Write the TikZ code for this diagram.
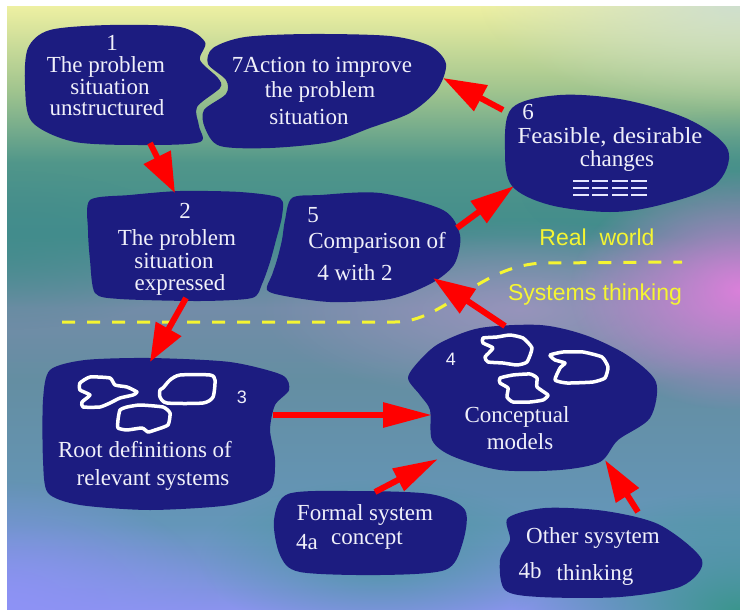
\documentclass[tikz,border=0pt]{standalone}
\usepackage{fontspec}
\usepackage{graphicx}
\setmainfont{Liberation Serif}
\setsansfont{Liberation Sans}
\usetikzlibrary{arrows.meta,fadings}
\definecolor{navy}{RGB}{28,28,128}
\definecolor{txtw}{RGB}{240,240,250}
\definecolor{ylw}{RGB}{245,245,50}
\definecolor{bg0}{RGB}{138,148,238}
\definecolor{bg1}{RGB}{100,150,185}
\definecolor{bg2}{RGB}{100,142,162}
\definecolor{bg3}{RGB}{115,140,168}
\definecolor{bg4}{RGB}{66,140,140}
\definecolor{bg5}{RGB}{80,150,138}
\definecolor{bg6}{RGB}{160,196,142}
\definecolor{bg7}{RGB}{238,240,162}
\definecolor{pinkg}{RGB}{218,128,218}
\definecolor{lavg}{RGB}{142,146,246}
\definecolor{tealg}{RGB}{58,150,140}
\definecolor{paleg}{RGB}{205,222,208}
\definecolor{grayl}{RGB}{160,150,192}
\definecolor{barc}{RGB}{230,230,255}
\pgfdeclareverticalshading{bgv}{100bp}{color(0bp)=(bg0); color(25bp)=(bg0); color(32bp)=(bg1); color(44bp)=(bg2); color(50bp)=(bg3); color(56bp)=(bg4); color(62bp)=(bg5); color(68bp)=(bg6); color(75bp)=(bg7); color(100bp)=(bg7)}
\tikzfading[name=glow, inner color=transparent!0, outer color=transparent!100]
\tikzset{
  blob/.style={fill=navy},
  loopline/.style={draw=white, line width=3.5pt, line join=round},
  barline/.style={draw=barc, line width=1.6pt},
  txt/.style={text=txtw, anchor=base, inner sep=0pt, font=\fontsize{23}{23}\selectfont},
  numsans/.style={text=txtw, anchor=base, inner sep=0pt, font=\sffamily\fontsize{18}{18}\selectfont},
  ytxt/.style={text=ylw, anchor=base, inner sep=0pt, font=\sffamily\fontsize{23}{23}\selectfont},
  redarrow/.style={draw=red, line width=6pt},
  divider/.style={draw=ylw, line width=3pt, dash pattern=on 13pt off 12pt}
}
\begin{document}
\begin{tikzpicture}[x=1pt,y=-1pt]
\useasboundingbox (0,0) rectangle (740,611);
\fill[white] (0,0) rectangle (740,611);
% background
\begin{scope}
\clip (7,6) rectangle (740,609);
\shade[shading=bgv] (7,6) rectangle (740,609);
\fill[paleg, path fading=glow] (740,0) ellipse [x radius=260pt, y radius=110pt];
\fill[bg4, path fading=glow, opacity=0.7] (0,250) ellipse [x radius=200pt, y radius=80pt];
\fill[bg4, path fading=glow, opacity=0.7] (740,190) ellipse [x radius=220pt, y radius=80pt];
\fill[grayl, path fading=glow, opacity=0.8] (520,310) ellipse [x radius=260pt, y radius=90pt];
\fill[pinkg, path fading=glow] (740,290) ellipse [x radius=170pt, y radius=120pt];
\fill[lavg, path fading=glow] (0,611) ellipse [x radius=220pt, y radius=130pt];
\fill[tealg, path fading=glow] (740,611) ellipse [x radius=230pt, y radius=120pt];
\fill[tealg, path fading=glow, opacity=0.6] (380,560) ellipse [x radius=180pt, y radius=80pt];
\end{scope}
% divider between real world and systems thinking
\coordinate (dv0) at (62,322);
\coordinate (dv1) at (395,322);
\coordinate (dv2) at (545,263);
\coordinate (dv3) at (682,262);
\draw[divider] (dv0) -- (dv1) .. controls (445,322) and (480,264) .. (dv2) -- (dv3);
% blobs
\fill[blob] plot[smooth cycle, tension=0.5] coordinates {(28,48) (50,30) (110,25) (180,27) (205,42) (200,60) (218,78) (220,88) (197,107) (199,126) (200,142) (150,145) (75,142) (32,122) (25,85)};
\fill[blob] plot[smooth cycle, tension=0.5] coordinates {(213,48) (245,37) (310,34) (390,36) (430,46) (446,64) (437,90) (410,113) (370,128) (330,142) (270,148) (220,146) (205,128) (204,110) (226,94) (226,80) (208,64)};
\fill[blob] plot[smooth cycle, tension=0.55] coordinates {(512,108) (560,95) (625,100) (690,120) (728,150) (715,185) (660,205) (610,212) (550,205) (512,186) (505,150)};
\fill[blob] plot[smooth cycle, tension=0.45] coordinates {(90,200) (130,195) (180,191) (240,192) (280,198) (282,216) (276,240) (270,262) (262,284) (252,298) (200,301) (120,299) (95,293) (90,260) (88,230)};
\fill[blob] plot[smooth cycle, tension=0.5] coordinates {(292,198) (320,195) (380,193) (443,210) (460,235) (455,263) (437,280) (410,293) (383,300) (330,302) (285,296) (267,290) (272,275) (277,260) (282,240) (285,220)};
\fill[blob] plot[smooth cycle, tension=0.45] coordinates {(50,370) (85,360) (150,358) (230,362) (282,375) (289,390) (275,405) (270,430) (275,460) (270,490) (230,505) (150,510) (80,505) (48,493) (43,460) (43,400)};
\fill[blob] plot[smooth cycle, tension=0.5] coordinates {(440,343) (480,328) (540,325) (585,335) (627,355) (656,382) (650,418) (618,440) (600,462) (560,470) (500,470) (452,456) (432,440) (430,410) (420,395) (408,378) (420,360)};
\fill[blob] plot[smooth cycle, tension=0.5] coordinates {(288,494) (350,491) (430,494) (465,510) (462,545) (445,570) (380,575) (300,572) (280,555) (274,520)};
\fill[blob] plot[smooth cycle, tension=0.5] coordinates {(508,518) (545,508) (605,511) (660,525) (702,560) (682,586) (620,597) (540,597) (505,590) (500,560) (510,540)};
% inner sketches of blob 3
\draw[loopline] plot[smooth cycle, tension=0.3] coordinates {(80,383) (90,377) (110,378) (115,385) (127,387) (137,392) (133,395) (120,398) (110,403) (100,407) (83,407) (82,402) (90,395) (80,390)};
\draw[loopline] plot[smooth cycle, tension=0.4] coordinates {(163,388) (170,380) (180,375) (210,375) (215,380) (213,397) (203,403) (167,403) (160,397) (160,390)};
\draw[loopline] plot[smooth cycle, tension=0.3] coordinates {(120,410) (127,407) (140,405) (163,407) (170,413) (168,425) (155,430) (148,432) (142,428) (127,430) (118,428) (118,420)};
% inner sketches of blob 4
\draw[loopline] plot[smooth cycle, tension=0.3] coordinates {(483,338) (497,337) (510,335) (523,338) (532,348) (527,362) (517,365) (503,363) (488,362) (485,357) (493,348) (483,343)};
\draw[loopline] plot[smooth cycle, tension=0.3] coordinates {(550,355) (563,352) (583,352) (602,357) (608,367) (605,378) (593,382) (567,383) (555,380) (560,368) (565,363) (555,360)};
\draw[loopline] plot[smooth cycle, tension=0.3] coordinates {(500,378) (513,375) (530,374) (537,378) (537,387) (548,395) (543,400) (530,402) (513,402) (507,397) (508,388) (500,383)};
% bars in blob 6
\foreach \xx in {573,592,612,631} {\foreach \yy in {181,188,195} {\draw[barline] (\xx,\yy) -- ++(16,0);}}
% texts
\node[txt] (t1n) at (112,50) {1};
\node[txt] (t1a) at (106,72) {The problem};
\node[txt] (t1b) at (110,94) {situation};
\node[txt] (t1c) at (107,115) {unstructured};
\node[txt] (t7a) at (322,72) {7Action to improve};
\node[txt] (t7b) at (320,97) {the problem};
\node[txt] (t7c) at (309,124) {situation};
\node[txt] (t6n) at (528,119) {6};
\node[txt] (t6a) at (610,143) {\scalebox{1.08}[1]{Feasible, desirable}};
\node[txt] (t6b) at (617,166) {changes};
\node[txt] (t2n) at (185,218) {2};
\node[txt] (t2a) at (177,245) {The problem};
\node[txt] (t2b) at (174,268) {situation};
\node[txt] (t2c) at (180,290) {expressed};
\node[txt] (t5n) at (313,222) {5};
\node[txt] (t5a) at (377,248) {Comparison of};
\node[txt] (t5b) at (355,280) {4 with 2};
\node[numsans] (t3n) at (242,403) {3};
\node[txt] (t3a) at (145,457) {Root definitions of};
\node[txt] (t3b) at (153,485) {relevant systems};
\node[numsans] (t4n) at (451,365) {4};
\node[txt] (t4a) at (517,422) {Conceptual};
\node[txt] (t4b) at (520,449) {models};
\node[txt] (t4aa) at (365,520) {Formal system};
\node[txt] (t4an) at (307,549) {4a};
\node[txt] (t4ab) at (367,544) {concept};
\node[txt] (t4ba) at (593,543) {Other sysytem};
\node[txt] (t4bn) at (530,578) {4b};
\node[txt] (t4bb) at (595,580) {thinking};
\node[ytxt] (rw) at (597,245) {Real\ \ world};
\node[ytxt] (st) at (595,300) {Systems thinking};
% arrows
\coordinate (a12s) at (150,143); \coordinate (a12e) at (175,193);
\coordinate (a23s) at (186,298); \coordinate (a23e) at (150,362);
\coordinate (a34s) at (273,415); \coordinate (a34e) at (432,415);
\coordinate (a45s) at (505,326); \coordinate (a45e) at (433,278);
\coordinate (a56s) at (457,228); \coordinate (a56e) at (514,186);
\coordinate (a67s) at (503,110); \coordinate (a67e) at (443,78);
\coordinate (a4as) at (375,492); \coordinate (a4ae) at (438,459);
\coordinate (a4bs) at (638,512); \coordinate (a4be) at (605,460);
\draw[redarrow, -{Triangle[length=40pt,width=29pt]}] (a12s) -- (a12e);
\draw[redarrow, -{Triangle[length=38pt,width=28pt]}] (a23s) -- (a23e);
\draw[redarrow, -{Triangle[length=49pt,width=24pt]}] (a34s) -- (a34e);
\draw[redarrow, -{Triangle[length=42pt,width=28pt]}] (a45s) -- (a45e);
\draw[redarrow, -{Triangle[length=44pt,width=26pt]}] (a56s) -- (a56e);
\draw[redarrow, -{Triangle[length=43pt,width=28pt]}] (a67s) -- (a67e);
\draw[redarrow, -{Triangle[length=45pt,width=24pt]}] (a4as) -- (a4ae);
\draw[redarrow, -{Triangle[length=42pt,width=26pt]}] (a4bs) -- (a4be);
\end{tikzpicture}
\end{document}
